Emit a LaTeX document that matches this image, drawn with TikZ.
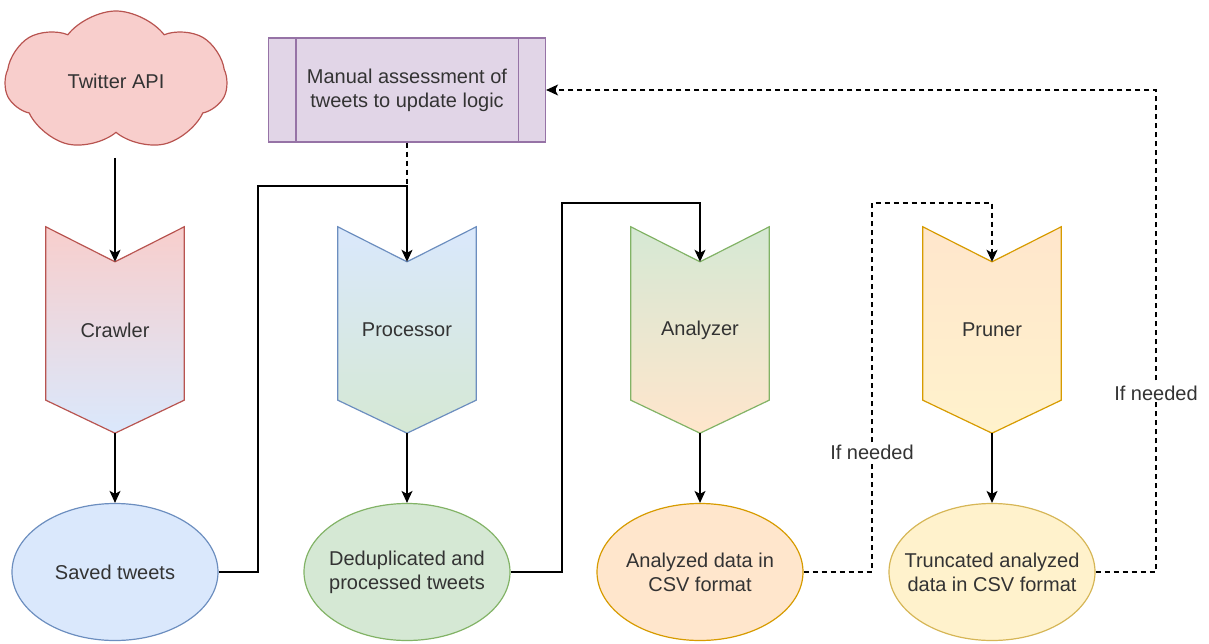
\documentclass[tikz,border=0pt]{standalone}
\usepackage{fontspec}
\setmainfont{Liberation Sans}
\usetikzlibrary{shapes.symbols,shapes.geometric,arrows.meta,backgrounds}

\definecolor{redfill}{HTML}{F8CECC}
\definecolor{redline}{HTML}{B85450}
\definecolor{bluefill}{HTML}{DAE8FC}
\definecolor{blueline}{HTML}{6C8EBF}
\definecolor{greenfill}{HTML}{D5E8D4}
\definecolor{greenline}{HTML}{82B366}
\definecolor{orangefill}{HTML}{FFE6CC}
\definecolor{orangeline}{HTML}{D79B00}
\definecolor{yellowfill}{HTML}{FFF2CC}
\definecolor{yellowline}{HTML}{D6B656}
\definecolor{purplefill}{HTML}{E1D5E7}
\definecolor{purpleline}{HTML}{9673A6}
\definecolor{txt}{HTML}{333333}

\begin{document}
\begin{tikzpicture}[
    x=1pt, y=-1pt,
    font=\fontsize{20}{24}\selectfont, text=txt,
    stage/.style={minimum width=138pt, minimum height=206pt, inner sep=0pt},
    store/.style={ellipse, minimum width=206pt, minimum height=137pt, inner xsep=-60pt,
        inner ysep=-20pt, align=center, line width=1.2pt},
    flow/.style={-{Stealth[length=12pt,width=11pt,inset=3pt]}, line width=1.2pt},
    maybe/.style={dash pattern=on 5pt off 4pt, line width=1.2pt},
    note/.style={fill=white, inner sep=2pt}
]
\useasboundingbox (0,0) rectangle (1209,644);

% sources
\node[cloud, cloud puffs=7, cloud puff arc=105, aspect=1.6, minimum width=222pt,
    minimum height=140pt, draw=redline, fill=redfill, line width=1.2pt] (api) at (116,81) {Twitter API};

\node[draw=purpleline, fill=purplefill, minimum width=277pt, minimum height=104pt,
    align=center, line width=1.2pt] (manual) at (407,90) {Manual assessment of\\tweets to update logic};
\draw[purpleline, line width=1.2pt] ([xshift=28pt]manual.north west) -- ([xshift=28pt]manual.south west);
\draw[purpleline, line width=1.2pt] ([xshift=-28pt]manual.north east) -- ([xshift=-28pt]manual.south east);

% stages
\node[stage] (crawler) at (115,330) {Crawler};
\node[stage] (processor) at (407,330) {Processor};
\node[stage] (analyzer) at (700,330) {Analyzer};
\node[stage] (pruner) at (992,330) {Pruner};

\begin{scope}[on background layer]
\foreach \s/\ln/\tp/\bt in {crawler/redline/redfill/bluefill, processor/blueline/bluefill/greenfill,
    analyzer/greenline/greenfill/orangefill, pruner/orangeline/orangefill/yellowfill}
  \path[draw=\ln, top color=\tp, bottom color=\bt, line width=1.2pt]
    (\s.north west) -- ([yshift=-35pt]\s.north) coordinate (\s-in) -- (\s.north east)
    -- ([yshift=33pt]\s.south east) -- (\s.south) -- ([yshift=33pt]\s.south west) -- cycle;
\end{scope}

% outputs
\node[store, draw=blueline, fill=bluefill] (saved) at (115,572) {Saved tweets};
\node[store, draw=greenline, fill=greenfill] (dedup) at (407,572) {Deduplicated and\\processed tweets};
\node[store, draw=orangeline, fill=orangefill] (analyzed) at (700,572) {Analyzed data in\\CSV format};
\node[store, draw=yellowline, fill=yellowfill] (truncated) at (992,572) {Truncated analyzed\\data in CSV format};

% bends
\coordinate (apiout) at (115,158);
\coordinate (bendA) at (258,186);
\coordinate (joinA) at (407,186);
\coordinate (bendB) at (562,203);
\coordinate (bendC) at (872,203);
\coordinate (bendD) at (1156,90);

\draw[flow] (apiout) -- (crawler-in);
\draw[flow] (crawler.south) -- (saved);
\draw[flow] (processor.south) -- (dedup);
\draw[flow] (analyzer.south) -- (analyzed);
\draw[flow] (pruner.south) -- (truncated);

\draw[maybe] (manual) -- (joinA);
\draw[flow] (saved.east) -| (bendA) -- (joinA) -- (processor-in);
\draw[flow] (dedup.east) -| (bendB) -| (analyzer-in);
\draw[maybe, -{Stealth[length=12pt,width=11pt,inset=3pt]}] (analyzed.east) -| (bendC) -| (pruner-in);
\draw[maybe, -{Stealth[length=12pt,width=11pt,inset=3pt]}] (truncated.east) -| (bendD) -- (manual.east);

\node[note] (need1) at (872,452) {If needed};
\node[note] (need2) at (1156,393) {If needed};
\end{tikzpicture}
\end{document}
